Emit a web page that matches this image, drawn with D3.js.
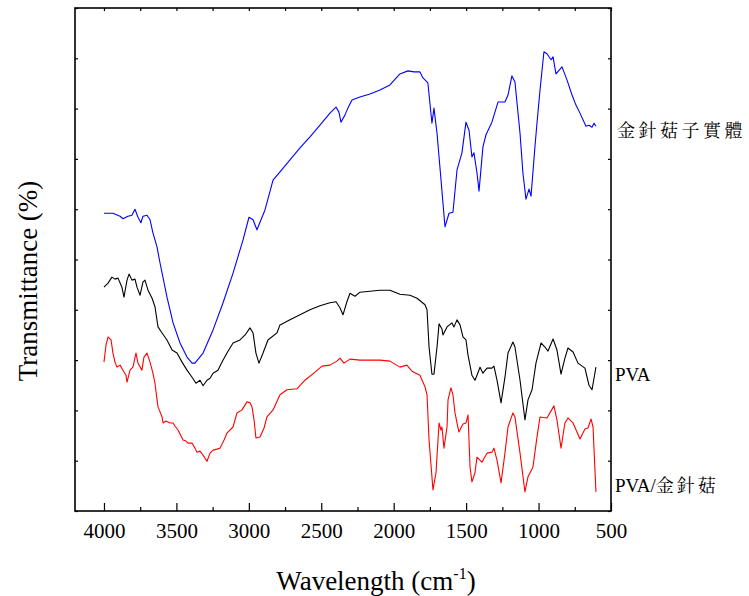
<!DOCTYPE html>
<html>
<head>
<meta charset="utf-8">
<script src="https://cdn.jsdelivr.net/npm/d3@7"></script>
</head>
<body style="margin:0;background:#fff">
<svg id="chart" width="749" height="596" style="display:block"></svg>
<script>
// FTIR spectra: [wavenumber (cm-1), transmittance (offset, arbitrary units)]
const mushroomSpectrum = [
  [4000,59.2],[3938,59.2],[3889,58.6],[3869,58.1],[3834,58.6],[3807,58.8],[3786,60.0],[3765,58.4],
  [3745,57.3],[3731,58.6],[3703,58.8],[3682,57.9],[3662,55.3],[3634,52.5],[3613,49.3],[3565,42.5],
  [3523,37.4],[3475,33.4],[3427,30.6],[3392,29.4],[3372,29.4],[3316,31.4],[3247,36.0],[3178,41.4],
  [3109,47.3],[3040,53.9],[2999,58.4],[2971,57.9],[2944,55.9],[2909,58.4],[2889,59.8],[2833,65.8],
  [2785,67.4],[2716,69.8],[2647,72.2],[2578,74.4],[2509,76.7],[2440,79.1],[2398,80.3],[2378,79.3],
  [2364,77.3],[2337,78.7],[2316,80.1],[2288,81.7],[2233,82.3],[2164,82.9],[2095,83.7],[2026,84.7],
  [1957,86.9],[1902,87.5],[1860,87.3],[1819,87.3],[1798,86.1],[1764,85.1],[1736,77.1],[1722,80.1],
  [1701,75.1],[1681,68.4],[1646,56.5],[1618,59.2],[1591,59.4],[1563,67.8],[1529,71.2],[1501,77.3],
  [1480,75.7],[1460,70.4],[1446,71.2],[1425,67.2],[1411,63.6],[1384,72.4],[1363,74.8],[1322,77.3],
  [1280,81.3],[1232,81.3],[1211,82.7],[1184,86.5],[1163,85.3],[1128,75.1],[1108,67.2],[1087,62.0],
  [1066,64.0],[1052,62.6],[1025,72.4],[1011,77.1],[990,83.7],[963,91.3],[942,90.9],[914,89.7],
  [900,90.3],[880,86.9],[838,88.3],[804,85.7],[769,82.7],[742,80.7],[714,79.1],[673,76.5],
  [652,76.7],[631,76.3],[617,77.1],[604,76.5]
];

const pvaSpectrum = [
  [4000,44.5],[3972,45.3],[3945,46.5],[3924,46.1],[3903,46.3],[3876,44.5],[3862,42.5],[3841,45.9],
  [3827,47.1],[3807,45.9],[3786,46.1],[3772,44.5],[3751,42.9],[3731,45.5],[3717,45.9],[3696,43.9],
  [3668,42.3],[3648,40.6],[3627,36.6],[3599,35.4],[3565,34.0],[3530,32.0],[3496,31.4],[3461,29.6],
  [3427,28.0],[3392,26.6],[3365,25.4],[3337,26.0],[3316,24.9],[3289,26.0],[3268,26.4],[3247,27.4],
  [3213,28.0],[3185,29.6],[3151,31.4],[3109,33.4],[3061,34.0],[3026,35.0],[2992,36.4],[2971,35.4],
  [2951,31.4],[2930,29.4],[2902,31.4],[2868,34.0],[2806,35.4],[2785,37.0],[2716,38.0],[2647,39.0],
  [2578,40.0],[2509,40.8],[2440,41.4],[2398,41.6],[2371,40.4],[2350,39.0],[2323,41.6],[2302,43.3],
  [2267,42.7],[2233,43.5],[2164,43.7],[2095,43.9],[2026,43.9],[1957,43.1],[1888,42.9],[1839,42.3],
  [1784,41.0],[1770,40.0],[1756,32.6],[1736,27.2],[1722,27.2],[1701,32.6],[1687,37.2],[1667,36.2],
  [1660,35.0],[1632,36.6],[1598,37.4],[1584,36.6],[1563,38.0],[1542,37.0],[1522,34.6],[1501,34.0],
  [1487,31.0],[1460,27.0],[1439,26.0],[1425,27.0],[1404,28.6],[1384,27.4],[1356,28.4],[1322,28.4],
  [1308,28.8],[1287,26.0],[1259,21.5],[1232,26.6],[1211,31.4],[1177,33.6],[1163,32.6],[1128,26.0],
  [1094,18.1],[1073,22.1],[1045,24.1],[1018,29.4],[983,33.4],[956,32.6],[935,31.8],[900,34.2],
  [873,32.0],[845,27.2],[818,30.4],[797,32.4],[762,31.6],[728,29.4],[680,28.4],[652,25.0],
  [631,24.1],[604,28.6]
];

const blendSpectrum = [
  [4000,29.6],[3986,33.0],[3972,34.6],[3951,34.0],[3938,31.4],[3924,29.6],[3910,28.6],[3889,29.0],
  [3869,28.0],[3848,27.0],[3841,25.6],[3820,28.0],[3800,28.6],[3779,31.4],[3765,29.4],[3738,28.0],
  [3724,30.6],[3703,31.4],[3682,29.6],[3662,27.4],[3648,25.4],[3627,20.7],[3613,19.7],[3599,18.7],
  [3592,17.5],[3572,17.9],[3544,17.5],[3523,17.5],[3510,16.9],[3489,16.1],[3454,14.1],[3434,13.9],
  [3420,13.5],[3392,13.5],[3372,12.5],[3358,11.7],[3337,11.9],[3316,11.1],[3289,9.9],[3268,11.5],
  [3247,12.1],[3220,12.3],[3199,12.5],[3171,14.1],[3151,15.5],[3109,16.7],[3082,19.5],[3047,20.1],
  [3013,21.7],[2992,21.5],[2978,20.7],[2964,18.1],[2951,14.5],[2923,14.7],[2895,16.5],[2875,18.7],
  [2833,20.1],[2785,23.1],[2737,24.1],[2668,24.3],[2613,26.0],[2543,27.6],[2495,28.8],[2440,29.0],
  [2392,29.8],[2371,30.4],[2343,29.4],[2302,30.2],[2233,30.0],[2164,30.0],[2095,30.0],[2026,29.8],
  [1957,28.6],[1909,29.0],[1874,27.8],[1819,27.0],[1784,24.7],[1770,23.1],[1756,14.1],[1729,4.2],
  [1708,7.6],[1687,17.5],[1674,16.1],[1667,16.7],[1653,12.5],[1632,16.7],[1625,22.1],[1605,24.5],
  [1591,23.1],[1577,19.5],[1550,15.7],[1522,17.3],[1501,17.5],[1487,19.1],[1473,8.7],[1460,5.8],
  [1439,7.6],[1425,10.7],[1391,9.7],[1356,11.5],[1322,11.7],[1308,12.5],[1287,10.1],[1259,5.6],
  [1232,11.5],[1211,16.7],[1177,19.5],[1163,18.7],[1128,11.5],[1094,3.8],[1073,6.8],[1039,8.7],
  [1011,14.7],[990,18.7],[942,18.5],[894,20.9],[873,18.1],[845,12.5],[818,17.5],[797,18.5],
  [762,17.5],[714,14.3],[680,16.3],[659,16.5],[638,18.3],[624,16.7],[604,3.8]
];

const xTickLabels = [4000, 3500, 3000, 2500, 2000, 1500, 1000, 500];
const xMinorTicks = [3750, 3250, 2750, 2250, 1750, 1250, 750];
const yTicks = [0, 10, 20, 30, 40, 50, 60, 70, 80, 90, 100];
const seriesNames = ["金針菇子實體", "PVA", "PVA/金針菇"];
const seriesColors = ["#0000ff", "#000000", "#ff0000"];

const SERIF = '"Liberation Serif"';
const MING = '"Noto Serif CJK TC"';

const margin = { left: 75, right: 138, top: 8, bottom: 85 };
const W = 749, H = 596;
const svg = d3.select("#chart");

const x = d3.scaleLinear().domain([4200, 500]).range([margin.left, W - margin.right]);
const y = d3.scaleLinear().domain([0, 100]).range([H - margin.bottom, margin.top]);

// spectra
const line = d3.line().x(d => x(d[0])).y(d => y(d[1]));
const plot = svg.append("g");
[mushroomSpectrum, pvaSpectrum, blendSpectrum].forEach((s, i) => {
  plot.append("path")
    .datum(s)
    .attr("fill", "none")
    .attr("stroke", seriesColors[i])
    .attr("stroke-width", 1.1)
    .attr("stroke-linejoin", "round")
    .attr("d", line);
});

// axes, ticks pointing inward
const x0 = margin.left, x1 = W - margin.right, y0 = H - margin.bottom, y1 = margin.top;

const bottom = svg.append("g").attr("transform", `translate(0,${y0})`)
  .call(d3.axisBottom(x).tickValues(xTickLabels).tickSize(-8).tickFormat(d3.format("d")));
bottom.attr("font-family", SERIF).attr("font-size", 21);
bottom.selectAll("text").attr("y", 27).attr("dy", 0).attr("fill", "#000");

svg.append("g").attr("transform", `translate(0,${y0})`)
  .call(d3.axisBottom(x).tickValues(xMinorTicks).tickSize(-4).tickFormat(""));
svg.append("g").attr("transform", `translate(0,${y1})`)
  .call(d3.axisTop(x).tickValues(xTickLabels.concat(xMinorTicks)).tickSize(-3).tickFormat(""));
svg.append("g").attr("transform", `translate(${x0},0)`)
  .call(d3.axisLeft(y).tickValues(yTicks).tickSize(-3).tickFormat(""));
svg.append("g").attr("transform", `translate(${x1},0)`)
  .call(d3.axisRight(y).tickValues(yTicks).tickSize(-3).tickFormat(""));

svg.selectAll(".domain").remove();
svg.selectAll(".tick line").attr("stroke", "#000").attr("stroke-width", 1.2);

// frame
svg.append("rect")
  .attr("x", x0).attr("y", y1)
  .attr("width", x1 - x0).attr("height", y0 - y1)
  .attr("fill", "none").attr("stroke", "#000").attr("stroke-width", 1.6);

// axis titles
const xt = svg.append("text")
  .attr("x", 376).attr("y", 590).attr("text-anchor", "middle")
  .attr("font-family", SERIF).attr("font-size", 27);
xt.append("tspan").text("Wavelength (cm");
xt.append("tspan").text("-1").attr("font-size", 16).attr("dy", -11);
xt.append("tspan").text(")").attr("dy", 11);

svg.append("text")
  .attr("transform", "translate(37,281) rotate(-90)")
  .attr("text-anchor", "middle")
  .attr("font-family", SERIF).attr("font-size", 27)
  .text("Transmittance (%)");

// series labels at the right edge
svg.append("text")
  .attr("x", 617).attr("y", 137)
  .attr("font-family", MING).attr("font-size", 18).attr("letter-spacing", 3.5)
  .text(seriesNames[0]);
svg.append("text")
  .attr("x", 615).attr("y", 381)
  .attr("font-family", SERIF).attr("font-size", 19)
  .text(seriesNames[1]);
const [latin, han] = seriesNames[2].split("/");
const bl = svg.append("text")
  .attr("x", 615).attr("y", 492)
  .attr("font-family", SERIF).attr("font-size", 19);
bl.append("tspan").text(latin + "/");
bl.append("tspan").attr("font-family", MING).attr("font-size", 18)
  .attr("letter-spacing", 3).text(han);
</script>
</body>
</html>
